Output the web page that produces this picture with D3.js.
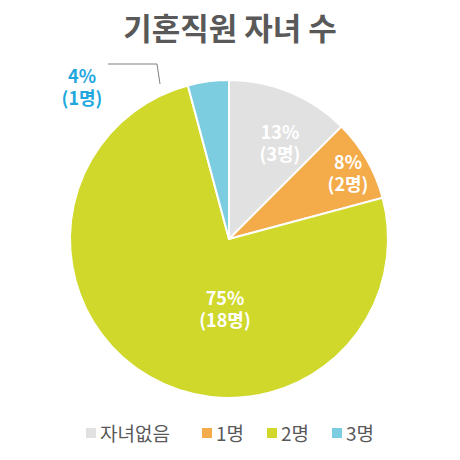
<!DOCTYPE html><html><head><meta charset="utf-8">
<script src="https://cdn.jsdelivr.net/npm/d3@7"></script>
<style>body{margin:0;background:#fff}</style></head><body><svg id="c" width="460" height="460"></svg>
<script>
const categories=["자녀없음","1명","2명","3명"];
const values=[3,2,18,1];
const pctLabels=["13%","8%","75%","4%"];
const countLabels=["(3명)","(2명)","(18명)","(1명)"];
const colors=["#e1e1e1","#f4ab4a","#d0d82c","#7ccde0"];
const svg=d3.select("#c");
const font="'Noto Sans CJK KR','Noto Sans',sans-serif";
svg.append("text").attr("x",230).attr("y",40).attr("text-anchor","middle").attr("font-family",font)
 .attr("font-weight","bold").attr("font-size",31).attr("fill","#595959").text("기혼직원 자녀 수");
const cx=229,cy=239,r=159;
const pie=d3.pie().sort(null)(values);
const arc=d3.arc().innerRadius(0).outerRadius(r);
const g=svg.append("g").attr("transform",`translate(${cx},${cy})`);
g.selectAll("path").data(pie).join("path").attr("d",arc).attr("fill",(d,i)=>colors[i]).attr("stroke","#fff").attr("stroke-width",2);
const labelPos=[[280,142],[348,172],[225,308]];
pie.forEach((d,i)=>{
 let x,y,fill="#fff";
 if(i<3){[x,y]=labelPos[i];}else{x=82;y=86;fill="#1fa8de";}
 const t=svg.append("text").attr("text-anchor","middle").attr("font-family",font).attr("font-weight","bold").attr("font-size",18).attr("fill",fill);
 t.append("tspan").attr("x",x).attr("y",y-3).text(pctLabels[i]);
 t.append("tspan").attr("x",x).attr("y",y+19).text(countLabels[i]);
});
svg.append("polyline").attr("points",`108,64 157,64 160,84`).attr("fill","none").attr("stroke","#7f7f7f").attr("stroke-width",1);
const lg=svg.append("g");
const lx=[86,202,267,332];
categories.forEach((c,i)=>{
 lg.append("rect").attr("x",lx[i]).attr("y",428).attr("width",10).attr("height",10).attr("fill",colors[i]);
 lg.append("text").attr("x",lx[i]+14).attr("y",441).attr("font-family",font).attr("font-size",19).attr("fill","#595959").text(c);
});
</script></body></html>
